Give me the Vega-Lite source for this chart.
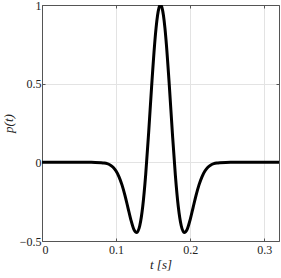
{
  "$schema": "https://vega.github.io/schema/vega-lite/v6.json",
  "autosize": {"type": "none"},
  "width": 237,
  "height": 236,
  "padding": {"left": 42, "top": 5, "right": 2, "bottom": 37},
  "background": "white",
  "config": {
    "view": {"stroke": null},
    "font": "Liberation Serif, DejaVu Serif, serif",
    "axis": {
      "labelFont": "Liberation Serif, DejaVu Serif, serif",
      "titleFont": "Liberation Serif, DejaVu Serif, serif",
      "labelFontSize": 12,
      "titleFontSize": 13,
      "labelColor": "#222",
      "titleColor": "#222",
      "domainColor": "#555",
      "tickColor": "#555",
      "gridColor": "#e3e3e3",
      "tickSize": -3,
      "labelPadding": 4,
      "titleFontWeight": "normal"
    }
  },
  "data": {
    "values": [
      {"t": 0.0, "p": 0},
      {"t": 0.06, "p": 0},
      {"t": 0.072, "p": -0.0003},
      {"t": 0.08, "p": -0.0019},
      {"t": 0.084, "p": -0.0042},
      {"t": 0.088, "p": -0.0087},
      {"t": 0.092, "p": -0.017},
      {"t": 0.096, "p": -0.0316},
      {"t": 0.1, "p": -0.0554},
      {"t": 0.104, "p": -0.0919},
      {"t": 0.108, "p": -0.1433},
      {"t": 0.112, "p": -0.2099},
      {"t": 0.116, "p": -0.2874},
      {"t": 0.12, "p": -0.3651},
      {"t": 0.124, "p": -0.4255},
      {"t": 0.128, "p": -0.4458},
      {"t": 0.132, "p": -0.4031},
      {"t": 0.136, "p": -0.281},
      {"t": 0.14, "p": -0.0776},
      {"t": 0.144, "p": 0.1893},
      {"t": 0.148, "p": 0.4814},
      {"t": 0.152, "p": 0.7469},
      {"t": 0.154, "p": 0.8529},
      {"t": 0.156, "p": 0.9331},
      {"t": 0.158, "p": 0.983},
      {"t": 0.16, "p": 1.0},
      {"t": 0.162, "p": 0.983},
      {"t": 0.164, "p": 0.9331},
      {"t": 0.166, "p": 0.8529},
      {"t": 0.168, "p": 0.7469},
      {"t": 0.172, "p": 0.4814},
      {"t": 0.176, "p": 0.1893},
      {"t": 0.18, "p": -0.0776},
      {"t": 0.184, "p": -0.281},
      {"t": 0.188, "p": -0.4031},
      {"t": 0.192, "p": -0.4458},
      {"t": 0.196, "p": -0.4255},
      {"t": 0.2, "p": -0.3651},
      {"t": 0.204, "p": -0.2874},
      {"t": 0.208, "p": -0.2099},
      {"t": 0.212, "p": -0.1433},
      {"t": 0.216, "p": -0.0919},
      {"t": 0.22, "p": -0.0554},
      {"t": 0.224, "p": -0.0316},
      {"t": 0.228, "p": -0.017},
      {"t": 0.232, "p": -0.0087},
      {"t": 0.236, "p": -0.0042},
      {"t": 0.24, "p": -0.0019},
      {"t": 0.248, "p": -0.0003},
      {"t": 0.26, "p": 0},
      {"t": 0.32, "p": 0}
    ]
  },
  "layer": [
    {
      "mark": {"type": "line", "color": "black", "strokeWidth": 3, "interpolate": "monotone", "clip": true},
      "encoding": {
        "x": {
          "field": "t", "type": "quantitative",
          "scale": {"domain": [0, 0.32], "nice": false, "zero": false},
          "axis": {"values": [0, 0.1, 0.2, 0.3], "title": "t [s]", "titleFontStyle": "italic", "labelPadding": 6, "titlePadding": 3, "format": "~g"}
        },
        "y": {
          "field": "p", "type": "quantitative",
          "scale": {"domain": [-0.5, 1], "nice": false, "zero": false},
          "axis": {"values": [-0.5, 0, 0.5, 1], "title": "p(t)", "titleFontStyle": "italic", "titleX": -27, "titleY": 118, "titleBaseline": "bottom", "titleAngle": -90, "format": "~g"}
        }
      }
    },
    {
      "mark": {"type": "point", "opacity": 0},
      "encoding": {
        "x": {
          "field": "t", "type": "quantitative",
          "scale": {"domain": [0, 0.32], "nice": false, "zero": false},
          "axis": {"orient": "top", "values": [0, 0.1, 0.2, 0.3], "labels": false, "title": null, "grid": false}
        },
        "y": {
          "field": "p", "type": "quantitative",
          "scale": {"domain": [-0.5, 1], "nice": false, "zero": false},
          "axis": {"orient": "right", "values": [-0.5, 0, 0.5, 1], "labels": false, "title": null, "grid": false}
        }
      }
    }
  ],
  "resolve": {"axis": {"x": "independent", "y": "independent"}}
}
